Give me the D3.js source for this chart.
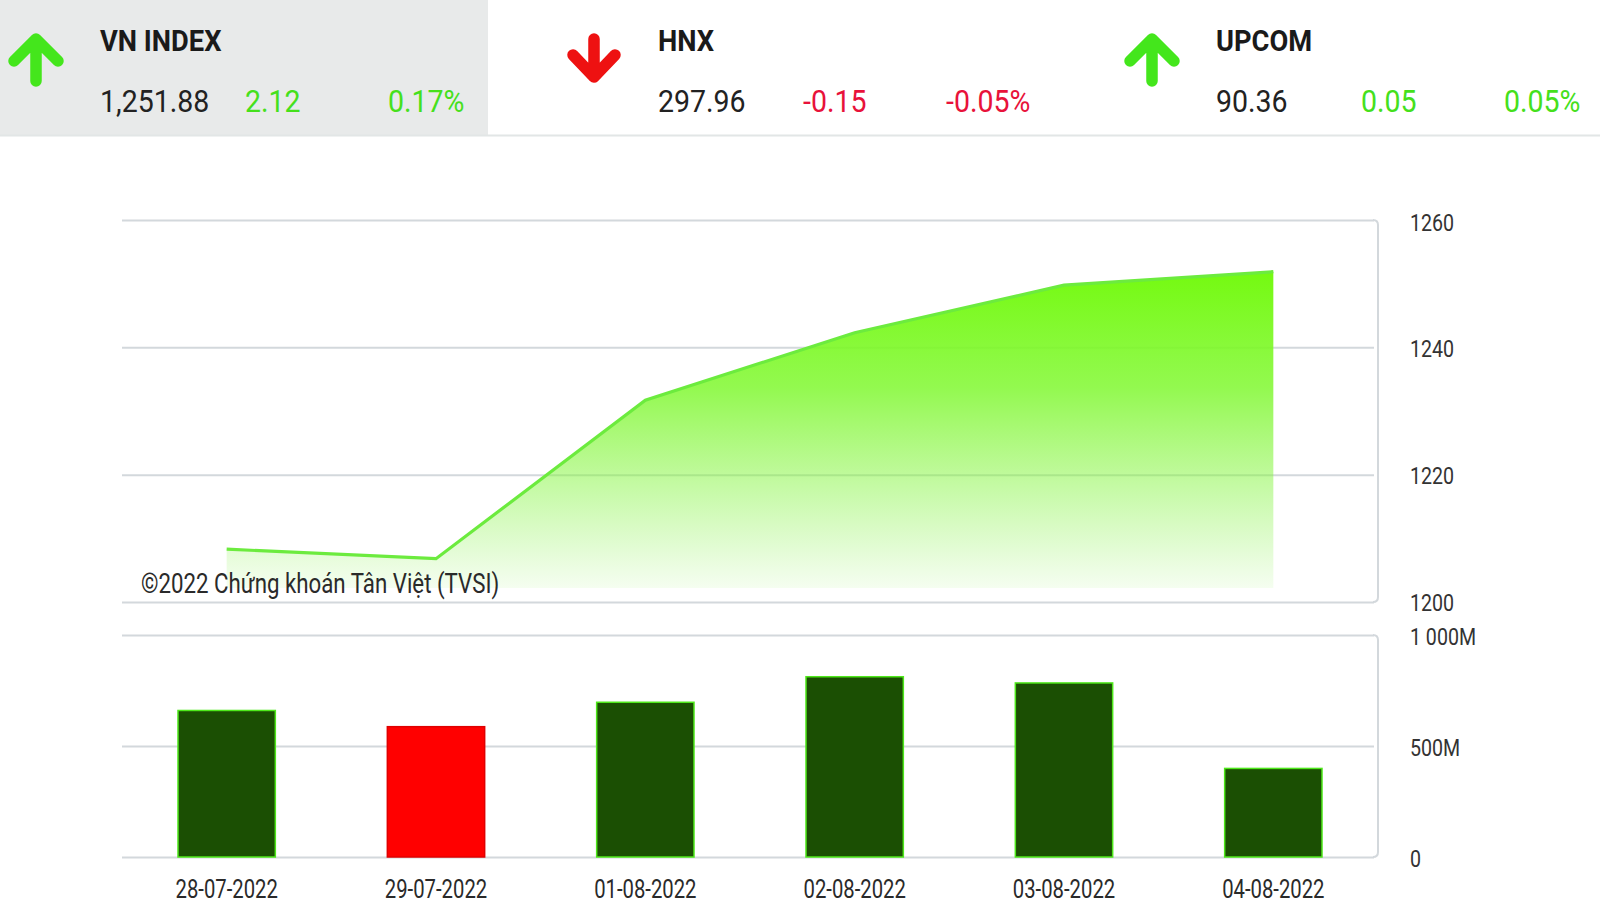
<!DOCTYPE html>
<html>
<head>
<meta charset="utf-8">
<script src="https://cdn.jsdelivr.net/npm/d3@7"></script>
<style>
  html, body { margin: 0; padding: 0; background: #fff; }
  svg { display: block; font-family: Roboto, "Noto Sans", sans-serif; }
</style>
</head>
<body>
<svg id="chart" width="1600" height="907"></svg>
<script>
// ---- Data ----
const indexNames = ["VN INDEX", "HNX", "UPCOM"];
const indexValues = [1251.88, 297.96, 90.36];
const indexChanges = [2.12, -0.15, 0.05];
const indexPercents = [0.17, -0.05, 0.05];

const dates = ["28-07-2022", "29-07-2022", "01-08-2022", "02-08-2022", "03-08-2022", "04-08-2022"];
const closes = [1208.3, 1206.8, 1231.7, 1242.3, 1249.76, 1251.88];
const volumes = [660e6, 587e6, 697e6, 812e6, 784e6, 399e6];
const volumeUp = [true, false, true, true, true, true];

const priceTicks = [1200, 1220, 1240, 1260];
const volumeTicks = [0, 500e6, 1000e6];
const watermark = "©2022 Chứng khoán Tân Việt (TVSI)";

// ---- Setup ----
const svg = d3.select("#chart");
const W = 1600;
const GREEN = "#45e01c", RED = "#e8123a", DARK = "#222";
const GRID = "#d3d8dc";
const locale = d3.formatLocale({ decimal: ".", thousands: ",", grouping: [3], currency: ["", ""], minus: "-" });

// ---- Header ----
svg.append("rect").attr("x", 0).attr("y", 0).attr("width", 488).attr("height", 135).attr("fill", "#e8eaea");
svg.append("line").attr("x1", 0).attr("x2", W).attr("y1", 135.5).attr("y2", 135.5)
  .attr("stroke", "#e2e6e6").attr("stroke-width", 2);

const panelStep = 558;
const fmtVal = locale.format(",.2f");
const fmtChg = locale.format(".2f");

function condText(g, x, y, txt, size, sx, opts) {
  const t = g.append("text")
    .attr("transform", `translate(${x},${y}) scale(${sx},1)`)
    .attr("font-size", size)
    .text(txt);
  if (opts) Object.entries(opts).forEach(([k, v]) => t.attr(k, v));
  return t;
}

indexNames.forEach((name, i) => {
  const g = svg.append("g").attr("transform", `translate(${i * panelStep},0)`);
  const up = indexChanges[i] >= 0;
  const col = up ? "#44e61c" : "#ee1111";
  const cx = 36;
  const arrow = up
    ? `M${cx - 22},61 L${cx},39 L${cx + 22},61 M${cx},42 L${cx},81`
    : `M${cx - 21},55 L${cx},77 L${cx + 21},55 M${cx},39 L${cx},74`;
  g.append("path").attr("d", arrow).attr("fill", "none").attr("stroke", col)
    .attr("stroke-width", 11.5).attr("stroke-linecap", "round").attr("stroke-linejoin", "round");
  const tc = up ? GREEN : RED;
  condText(g, 100, 51, name, 30, 0.91, { "font-weight": 700, fill: "#1a1a1a" });
  condText(g, 100, 112, fmtVal(indexValues[i]), 31, 0.92, { fill: DARK });
  condText(g, 245, 112, fmtChg(indexChanges[i]), 31, 0.92, { fill: tc });
  condText(g, 388, 112, fmtChg(indexPercents[i]) + "%", 31, 0.92, { fill: tc });
});

// ---- Scales ----
const x = d3.scaleBand().domain(dates).range([122, 1378]).paddingInner(0.535).paddingOuter(0.2675);
const xc = d => x(d) + x.bandwidth() / 2;
const yP = d3.scaleLinear().domain([1200, 1260]).range([602, 220]);
const yV = d3.scaleLinear().domain([0, 1000e6]).range([857, 635]);

// ---- Frames & gridlines ----
function frame(top, bottom, ticks, scale) {
  const g = svg.append("g");
  g.append("g").attr("transform", "translate(122,0)")
    .call(d3.axisRight(scale).tickValues(ticks).tickSize(1378 - 122 - 4).tickFormat(""))
    .call(s => s.select(".domain").remove())
    .call(s => s.selectAll("line").attr("stroke", GRID).attr("stroke-width", 2));
  const r = 5;
  g.append("path")
    .attr("d", `M${1378 - r},${top} Q1378,${top} 1378,${top + r} L1378,${bottom - r} Q1378,${bottom} ${1378 - r},${bottom}`)
    .attr("fill", "none").attr("stroke", GRID).attr("stroke-width", 2);
}
frame(yP(1260), yP(1200), priceTicks, yP);
frame(yV(1000e6), yV(0), volumeTicks, yV);

// ---- Area + line ----
const defs = svg.append("defs");
const grad = defs.append("linearGradient").attr("id", "areaGrad")
  .attr("gradientUnits", "userSpaceOnUse")
  .attr("x1", 0).attr("x2", 0).attr("y1", yP(d3.max(closes))).attr("y2", yP(1200));
grad.append("stop").attr("offset", 0).attr("stop-color", "#74fa10").attr("stop-opacity", 1);
grad.append("stop").attr("offset", 0.35).attr("stop-color", "#80f830").attr("stop-opacity", 0.85);
grad.append("stop").attr("offset", 1).attr("stop-color", "#88f050").attr("stop-opacity", 0.03);

const pts = dates.map((d, i) => [xc(d), closes[i]]);
svg.append("path").datum(pts)
  .attr("d", d3.area().x(p => p[0]).y0(yP(1200) - 14).y1(p => yP(p[1])))
  .attr("fill", "url(#areaGrad)");
svg.append("path").datum(pts)
  .attr("d", d3.line().x(p => p[0]).y(p => yP(p[1])))
  .attr("fill", "none").attr("stroke", "#6ceb3e").attr("stroke-width", 3.2);

// ---- Watermark ----
condText(svg, 141, 593, watermark, 27, 0.825, { fill: "#2a2a2a" });

// ---- Bars ----
svg.append("g").selectAll("rect").data(dates).join("rect")
  .attr("x", d => x(d))
  .attr("width", x.bandwidth())
  .attr("y", (d, i) => yV(volumes[i]))
  .attr("height", (d, i) => yV(0) - yV(volumes[i]))
  .attr("fill", (d, i) => volumeUp[i] ? "#1b4f03" : "#ff0000")
  .attr("stroke", (d, i) => volumeUp[i] ? "#4ee81a" : "#e00000")
  .attr("stroke-width", 1.5);

// ---- Axis labels ----
const labelG = svg.append("g");
priceTicks.forEach(t => {
  condText(labelG, 1410, yP(t) + (t === 1260 ? 5 : 3), String(t), 24.5, 0.8, { fill: "#333", "dominant-baseline": "middle" });
});
const fmtVol = v => v === 0 ? "0" : d3.format(",")(v / 1e6).replace(/,/g, " ") + "M";
volumeTicks.forEach(t => {
  condText(labelG, 1410, yV(t) + 4, fmtVol(t), 24.5, 0.8, { fill: "#333", "dominant-baseline": "middle" });
});

// x axis labels
dates.forEach(d => {
  condText(svg, xc(d), 898, d, 26, 0.78, { fill: "#2a2a2a", "text-anchor": "middle" });
});
</script>
</body>
</html>
